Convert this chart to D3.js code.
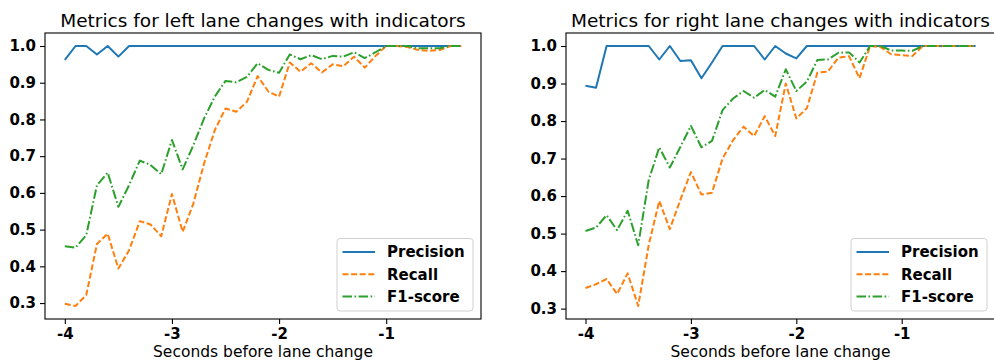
<!DOCTYPE html>
<html><head><meta charset="utf-8">
<script src="https://cdn.jsdelivr.net/npm/d3@7"></script>
<style>body{margin:0;background:#fff}svg{display:block}</style>
</head><body>
<svg id="chart" width="994" height="363"></svg>
<script>
const seconds = [-4.0,-3.9,-3.8,-3.7,-3.6,-3.5,-3.4,-3.3,-3.2,-3.1,-3.0,-2.9,-2.8,-2.7,-2.6,-2.5,-2.4,-2.3,-2.2,-2.1,-2.0,-1.9,-1.8,-1.7,-1.6,-1.5,-1.4,-1.3,-1.2,-1.1,-1.0,-0.9,-0.8,-0.7,-0.6,-0.5,-0.4,-0.3];
const xTicks = [-4,-3,-2,-1];
const yTicks = [0.3,0.4,0.5,0.6,0.7,0.8,0.9,1.0];
const seriesNames = ["Precision","Recall","F1-score"];
const titles = ["Metrics for left lane changes with indicators","Metrics for right lane changes with indicators"];
const xLabel = "Seconds before lane change";

const leftPrecision = [0.962,1,1,0.977,1,0.971,1,1,1,1,1,1,1,1,1,1,1,1,1,1,1,1,1,1,1,1,1,1,1,1,1,1,1,1,1,1,1,1];
const leftRecall = [0.298,0.292,0.322,0.461,0.489,0.394,0.444,0.523,0.514,0.482,0.597,0.494,0.571,0.680,0.771,0.830,0.821,0.848,0.918,0.876,0.862,0.955,0.930,0.953,0.928,0.950,0.945,0.971,0.941,0.973,1,1,0.997,0.989,0.987,0.989,1,1];
const leftF1 = [0.455,0.451,0.485,0.621,0.655,0.562,0.621,0.688,0.676,0.651,0.744,0.664,0.730,0.803,0.862,0.905,0.901,0.916,0.953,0.935,0.927,0.977,0.964,0.975,0.964,0.973,0.971,0.983,0.967,0.983,1,1,1,0.994,0.994,0.994,1,1];

const rightPrecision = [0.894,0.889,1,1,1,1,1,0.964,1,0.960,0.962,0.914,0.956,1,1,1,1,0.964,1,0.980,0.967,1,1,1,1,1,1,1,1,1,1,1,1,1,1,1,1,1];
const rightRecall = [0.355,0.365,0.379,0.339,0.394,0.307,0.470,0.587,0.512,0.590,0.664,0.604,0.609,0.700,0.749,0.785,0.760,0.813,0.760,0.900,0.807,0.834,0.929,0.932,0.969,0.973,0.914,1,0.997,0.978,0.976,0.973,1,1,1,1,1,1];
const rightF1 = [0.507,0.516,0.549,0.509,0.561,0.469,0.643,0.730,0.676,0.731,0.787,0.730,0.747,0.829,0.860,0.880,0.862,0.883,0.865,0.938,0.880,0.905,0.963,0.964,0.982,0.983,0.956,1,1,0.988,0.988,0.987,1,1,1,1,1,1];

const colors = ["#1f77b4","#ff7f0e","#2ca02c"];
const dashes = [null,"6,2.6","9.5,2.5,1.6,2.5"];
const FONT = "'DejaVu Sans', sans-serif";

const svg = d3.select("#chart");

const panels = [
  {title: titles[0], series:[leftPrecision,leftRecall,leftF1], x0:45, x1:481, legendX:337},
  {title: titles[1], series:[rightPrecision,rightRecall,rightF1], x0:566, x1:995, legendX:851}
];
const plotTop = 33, plotBottom = 319;

panels.forEach(p => {
  const g = svg.append("g");
  const xmin = d3.min(seconds), xmax = d3.max(seconds);
  const xm = (xmax - xmin) * 0.05;
  const x = d3.scaleLinear().domain([xmin - xm, xmax + xm]).range([p.x0, p.x1]);
  const allv = p.series.flat();
  const ymin = d3.min(allv), ymax = d3.max(allv);
  const ym = (ymax - ymin) * 0.05;
  const y = d3.scaleLinear().domain([ymin - ym, ymax + ym]).range([plotBottom, plotTop]);

  p.series.forEach((vals, si) => {
    const line = d3.line().x((d,i) => x(seconds[i])).y(d => y(d));
    const path = g.append("path").datum(vals)
      .attr("d", line).attr("fill","none")
      .attr("stroke", colors[si]).attr("stroke-width", 2)
      .attr("stroke-linejoin","round");
    if (dashes[si]) path.attr("stroke-dasharray", dashes[si]);
  });

  const xAxis = d3.axisBottom(x).tickValues(xTicks).tickSize(5).tickPadding(4).tickFormat(d3.format("d"));
  const yAxis = d3.axisLeft(y).tickValues(yTicks).tickSize(5).tickPadding(4).tickFormat(d3.format(".1f"));
  const gx = g.append("g").attr("transform", `translate(0,${plotBottom})`).call(xAxis);
  const gy = g.append("g").attr("transform", `translate(${p.x0},0)`).call(yAxis);
  [gx, gy].forEach(a => {
    a.select(".domain").remove();
    a.selectAll("line").attr("stroke","#000").attr("stroke-width",1.1);
    a.selectAll("text").attr("font-family", FONT).attr("font-weight","bold")
      .attr("font-size", 15).attr("fill","#000");
  });
  gx.selectAll("text").text(d => d < 0 ? "-" + Math.abs(d) : d);

  g.append("rect").attr("x", p.x0).attr("y", plotTop)
    .attr("width", p.x1 - p.x0).attr("height", plotBottom - plotTop)
    .attr("fill","none").attr("stroke","#000").attr("stroke-width",1.1);

  g.append("text").attr("x", (p.x0 + p.x1) / 2).attr("y", 26.5)
    .attr("text-anchor","middle").attr("font-family", FONT).attr("font-size", 18.5)
    .attr("fill","#000").text(p.title);

  g.append("text").attr("x", (p.x0 + p.x1) / 2).attr("y", 356.5)
    .attr("text-anchor","middle").attr("font-family", FONT).attr("font-size", 15.5)
    .attr("fill","#000").text(xLabel);

  const lg = g.append("g").attr("transform", `translate(${p.legendX},238.5)`);
  lg.append("rect").attr("x",0).attr("y",0).attr("width",136).attr("height",72.5)
    .attr("rx",3).attr("fill","#fff").attr("fill-opacity",0.8)
    .attr("stroke","#d0d0d0").attr("stroke-width",1);
  seriesNames.forEach((name, si) => {
    const cy = 13.5 + si * 22.3;
    const l = lg.append("line").attr("x1",5.5).attr("x2",38).attr("y1",cy).attr("y2",cy)
      .attr("stroke", colors[si]).attr("stroke-width",2);
    if (dashes[si]) l.attr("stroke-dasharray", dashes[si]);
    lg.append("text").attr("x",50).attr("y",cy).attr("dy","0.36em")
      .attr("font-family", FONT).attr("font-weight","bold").attr("font-size",15)
      .attr("fill","#000").text(name);
  });
});
</script>
</body></html>
